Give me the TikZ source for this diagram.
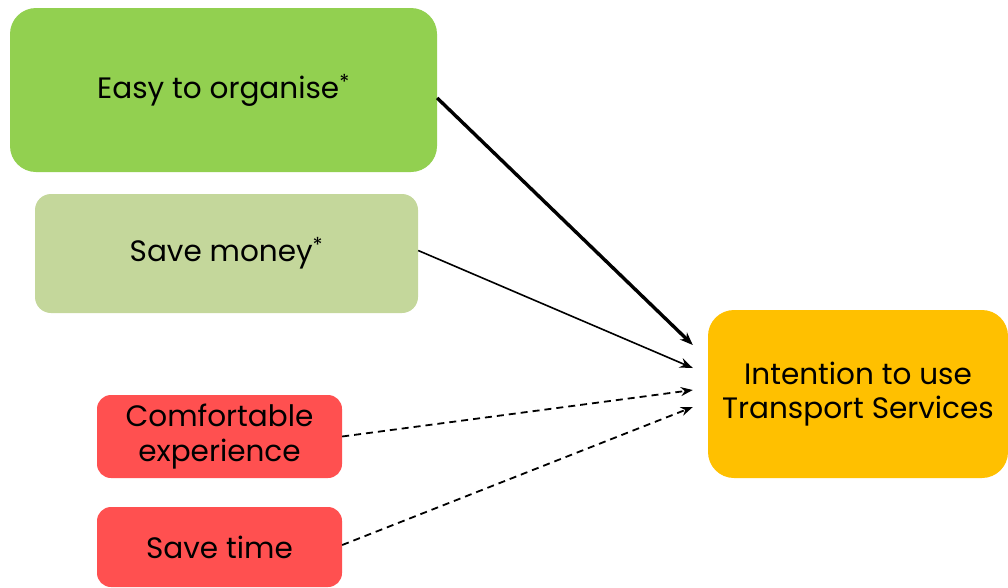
\documentclass[tikz,border=0pt]{standalone}
\usepackage{fontspec}
\setmainfont{Poppins}
\usetikzlibrary{arrows.meta, calc}

\definecolor{easygreen}{HTML}{92D050}
\definecolor{moneygreen}{HTML}{C4D79B}
\definecolor{weakred}{HTML}{FF5050}
\definecolor{intentgold}{HTML}{FFC000}

\begin{document}
\begin{tikzpicture}[
      x=1pt, y=-1pt,
      factor/.style={rectangle, rounded corners=14pt, align=center, inner sep=0pt,
        font=\fontsize{29.5}{34.5}\selectfont},
      arrow/.style={-{Stealth[length=13pt, width=10pt]}},
      weak/.style={-{Stealth[length=12pt, width=9pt]}, line width=1.8pt, dash pattern=on 7pt off 5pt}
    ]
    \useasboundingbox (0,0) rectangle (1008,587);

    \node[factor, fill=easygreen, rounded corners=26pt, minimum width=427pt, minimum height=164pt] (easy) at (223.5,90) {Easy to organise\textsuperscript{*}};
    \node[factor, fill=moneygreen, rounded corners=16pt, minimum width=383pt, minimum height=119pt] (money) at (226.5,253.5) {Save money\textsuperscript{*}};
    \node[factor, fill=weakred, minimum width=245pt, minimum height=83pt] (comfort) at (219.5,436.5) {Comfortable\\experience};
    \node[factor, fill=weakred, minimum width=245pt, minimum height=80pt] (time) at (219.5,547) {Save time};

    \node[factor, fill=intentgold, rounded corners=26pt, minimum width=300pt, minimum height=168pt] (intent) at (858,394) {Intention to use\\Transport Services};

    \draw[arrow, line width=3.4pt] ([yshift=-8pt]easy.east) -- ([xshift=-15pt, yshift=49pt]intent.west);
    \draw[arrow, line width=1.6pt] ([yshift=3pt]money.east) -- ([xshift=-15pt, yshift=26pt]intent.west);
    \draw[weak] (comfort.east) -- ([xshift=-15pt, yshift=4pt]intent.west);
    \draw[weak] ([yshift=2pt]time.east) -- ([xshift=-15pt, yshift=-13pt]intent.west);
  \end{tikzpicture}
\end{document}
